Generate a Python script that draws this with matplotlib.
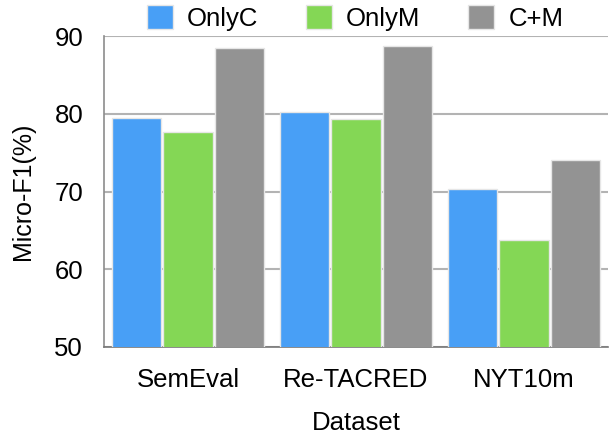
import matplotlib
matplotlib.use("Agg")
import matplotlib.pyplot as plt
import numpy as np

plt.rcParams['font.family'] = ['Liberation Sans', 'DejaVu Sans']

datasets = ["SemEval", "Re-TACRED", "NYT10m"]
series_names = ["OnlyC", "OnlyM", "C+M"]
only_c = [79.5, 80.2, 70.3]
only_m = [77.7, 79.3, 63.8]
c_plus_m = [88.4, 88.7, 74.0]
colors = ["#489FF6", "#84D755", "#939393"]
yticks = [50, 60, 70, 80, 90]

fig = plt.figure(figsize=(6.1, 4.34), dpi=100)
ax = fig.add_axes([104/610, 1-347/434, 504/610, 311/434])

x = np.arange(len(datasets))
step = 0.307
width = 0.292
for i, (vals, name, c) in enumerate(zip([only_c, only_m, c_plus_m], series_names, colors)):
    ax.bar(x + (i-1)*step, vals, width, color=c, edgecolor="#e6e6e6", linewidth=1.0,
           label=name, zorder=3)

ax.set_xlim(-0.5, 2.5)
ax.set_ylim(50, 90)
ax.set_yticks(yticks)
ax.set_xticks(x)
ax.set_xticklabels(datasets)
ax.tick_params(axis='both', length=0, labelsize=18.5, pad=15)
ax.yaxis.grid(True, color="#b3b3b3", linewidth=1.5, zorder=0)
ax.set_axisbelow(True)
for s in ["top", "right"]:
    ax.spines[s].set_visible(False)
ax.spines["left"].set_color("#8c8c8c")
ax.spines["bottom"].set_color("#777777")
ax.spines["left"].set_linewidth(1.2)
ax.spines["bottom"].set_linewidth(1.2)

ax.set_ylabel("Micro-F1(%)", fontsize=18)
ax.set_xlabel("Dataset", fontsize=18.5)
ax.yaxis.set_label_coords(-0.137, 0.5)
ax.xaxis.set_label_coords(0.5, -0.205)

fig.legend(loc="center", bbox_to_anchor=(355/610, 1-18/434), ncol=3, frameon=False,
           fontsize=18.5, handlelength=1.02, handleheight=1.02, handletextpad=0.55,
           columnspacing=1.85, borderpad=0, borderaxespad=0)

fig.savefig("out.png", dpi=100)
